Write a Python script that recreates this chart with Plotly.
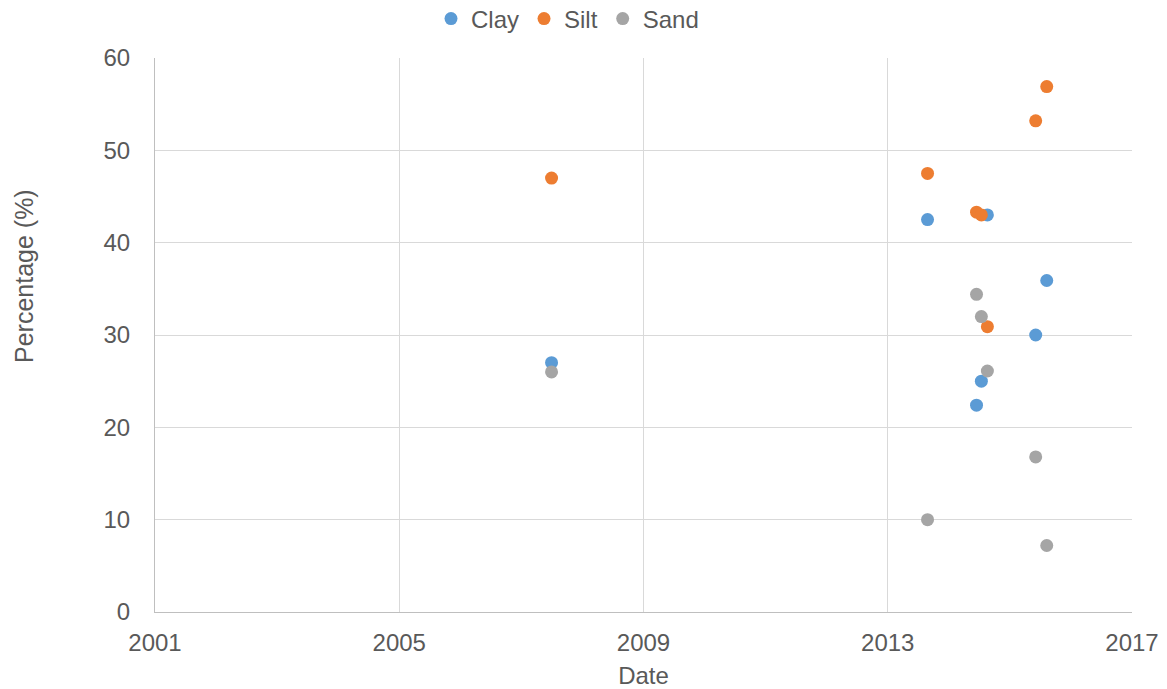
import plotly.graph_objects as go

dates = ["2007-07-01", "2013-08-27", "2014-06-16", "2014-07-15", "2014-08-20", "2015-06-05", "2015-08-10"]
clay = [27.0, 42.5, 22.4, 25.0, 43.0, 30.0, 35.9]
silt = [47.0, 47.5, 43.3, 43.0, 30.9, 53.2, 56.9]
sand = [26.0, 10.0, 34.4, 32.0, 26.1, 16.8, 7.2]

series = [("Clay", clay, "#5B9BD5"), ("Silt", silt, "#ED7D31"), ("Sand", sand, "#A5A5A5")]

font = "Liberation Sans, Arial, sans-serif"
text_color = "#595959"
fs = 24

fig = go.Figure()
for name, vals, color in series:
    fig.add_trace(go.Scatter(x=dates, y=vals, mode="markers", name=name,
                             marker=dict(color=color, size=13)))

fig.update_layout(
    width=1167, height=689,
    margin=dict(l=155, r=35, t=58, b=77, autoexpand=False),
    paper_bgcolor="white", plot_bgcolor="white",
    font=dict(family=font, size=fs, color=text_color),
    legend=dict(orientation="h", x=(431 - 155) / 977, xanchor="left",
                y=(612 - 19) / 554, yanchor="middle",
                font=dict(size=fs, color=text_color), itemwidth=30, tracegroupgap=0),
    showlegend=True,
    annotations=[dict(text="Percentage (%)", textangle=-90, xref="paper", yref="paper",
                      x=(24 - 155) / 977, y=(612 - 276) / 554, xanchor="center", yanchor="middle",
                      showarrow=False, font=dict(size=25, color=text_color))],
)
fig.update_xaxes(
    type="date", range=["2001-01-01", "2017-01-01"], dtick="M48", tick0="2001-01-01",
    tickformat="%Y", showgrid=True, gridcolor="#D9D9D9", gridwidth=1,
    showline=True, linecolor="#BFBFBF", linewidth=1, zeroline=False,
    ticks="", ticklabelstandoff=9, automargin=False,
    title=dict(text="Date", font=dict(size=fs, color=text_color), standoff=15),
)
fig.update_yaxes(
    range=[0, 60], dtick=10, showgrid=True, gridcolor="#D9D9D9", gridwidth=1,
    showline=True, linecolor="#BFBFBF", linewidth=1, zeroline=False,
    ticks="", ticklabelstandoff=19, automargin=False,
)
fig.write_html("out.html", config={"displayModeBar": False},
               post_script="document.body.style.margin='0';")
